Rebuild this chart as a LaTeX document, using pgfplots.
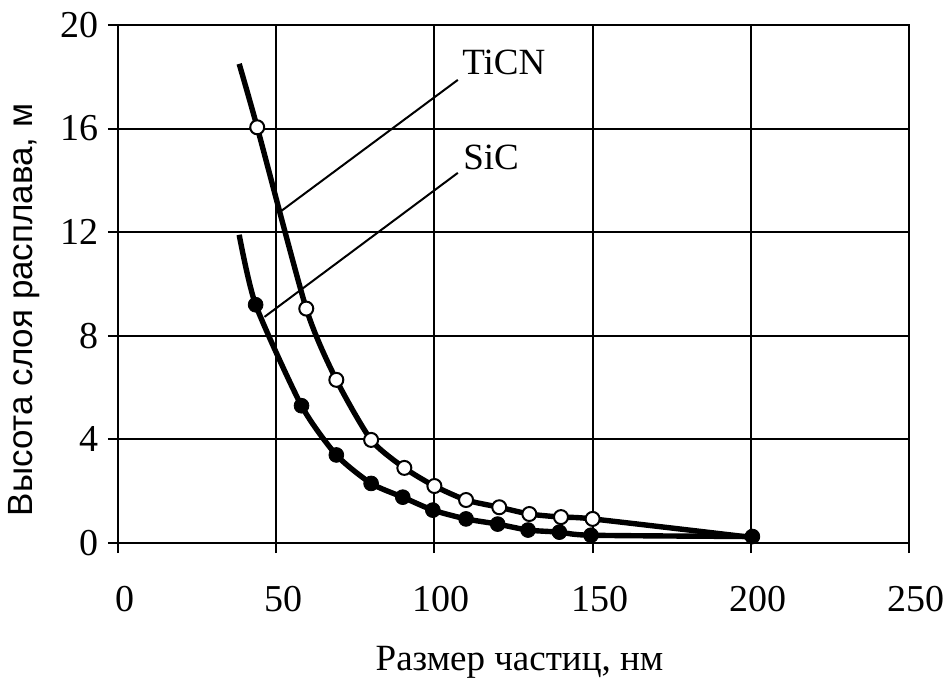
\documentclass[border=0pt]{standalone}
\usepackage{fontspec}
\setmainfont{Liberation Serif}
\newfontfamily\arialfont{Liberation Sans}
\usepackage{pgfplots}
\pgfplotsset{compat=1.18}
\begin{document}
\begin{tikzpicture}
\begin{axis}[
  scale only axis,
  width=395.5pt, height=259pt,
  xmin=0, xmax=250, ymin=0, ymax=20,
  xtick={0,50,...,250}, ytick={0,4,...,20},
  grid=major,
  grid style={black, line width=1pt},
  axis line style={black, line width=1pt},
  tick style={black, line width=1pt},
  tick align=outside, major tick length=5pt,
  xtick pos=bottom, ytick pos=left,
  /pgf/number format/assume math mode=true,
  tick label style={font=\fontsize{19}{21}\selectfont},
  xticklabel style={yshift=-13pt, xshift=3.5pt},
  yticklabel style={xshift=-1pt},
  xlabel={Размер частиц, нм},
  xlabel style={font=\fontsize{18.5}{20}\selectfont, at={(axis description cs:0.5,0)}, anchor=base, yshift=-63.5pt, xshift=3pt},
  ylabel={\arialfont Высота слоя расплава, м},
  ylabel style={font=\fontsize{17.5}{20}\selectfont, at={(axis description cs:0,0.45)}, anchor=center, yshift=47pt},
  clip=false,
]
\coordinate (bl) at (rel axis cs:0,0);
\coordinate (tr) at (rel axis cs:1,1);
% TiCN curve
\addplot[black, line width=2.7pt, smooth, tension=0.4, no marks] coordinates {
  (38.3,18.5) (44,16.05) (59.5,9.05) (69,6.3) (80,3.98) (90.5,2.9) (100,2.2)
  (110,1.66) (120.5,1.38) (130,1.12) (140,1.0) (150,0.93) (200,0.22)
};
% SiC curve
\addplot[black, line width=2.7pt, smooth, tension=0.4, no marks] coordinates {
  (38.3,11.9) (43.5,9.2) (58,5.3) (69,3.4) (80,2.3) (90,1.77) (99.5,1.27)
  (110,0.93) (120,0.73) (129.6,0.5) (139.5,0.42) (149.5,0.3) (200.5,0.25)
};
% TiCN marks
\addplot[only marks, mark=*, mark size=3.5pt, mark options={fill=white, draw=black, line width=1pt}] coordinates {
  (44,16.05) (59.5,9.05) (69,6.3) (80,3.98) (90.5,2.9) (100,2.2)
  (110,1.66) (120.5,1.38) (130,1.12) (140,1.0) (150,0.93)
};
% SiC marks
\addplot[only marks, mark=*, mark size=3.7pt, mark options={fill=black, draw=black}] coordinates {
  (43.5,9.2) (58,5.3) (69,3.4) (80,2.3) (90,1.77) (99.5,1.27)
  (110,0.93) (120,0.73) (129.6,0.5) (139.5,0.42) (149.5,0.3) (200.5,0.25)
};
\draw[black, line width=1pt] (axis cs:107.4,17.88) -- (axis cs:51.6,12.82);
\draw[black, line width=1pt] (axis cs:107.4,14.29) -- (axis cs:46.3,8.73);
\node[anchor=west, inner sep=0pt, font=\fontsize{18.5}{20}\selectfont] at (axis cs:108.7,18.57) {TiCN};
\node[anchor=west, inner sep=0pt, font=\fontsize{18.5}{20}\selectfont] at (axis cs:109,14.9) {SiC};
\end{axis}
\pgfresetboundingbox
\path ([shift={(-59pt,-68.5pt)}]bl) rectangle ([shift={(20pt,12.5pt)}]tr);
\end{tikzpicture}
\end{document}
